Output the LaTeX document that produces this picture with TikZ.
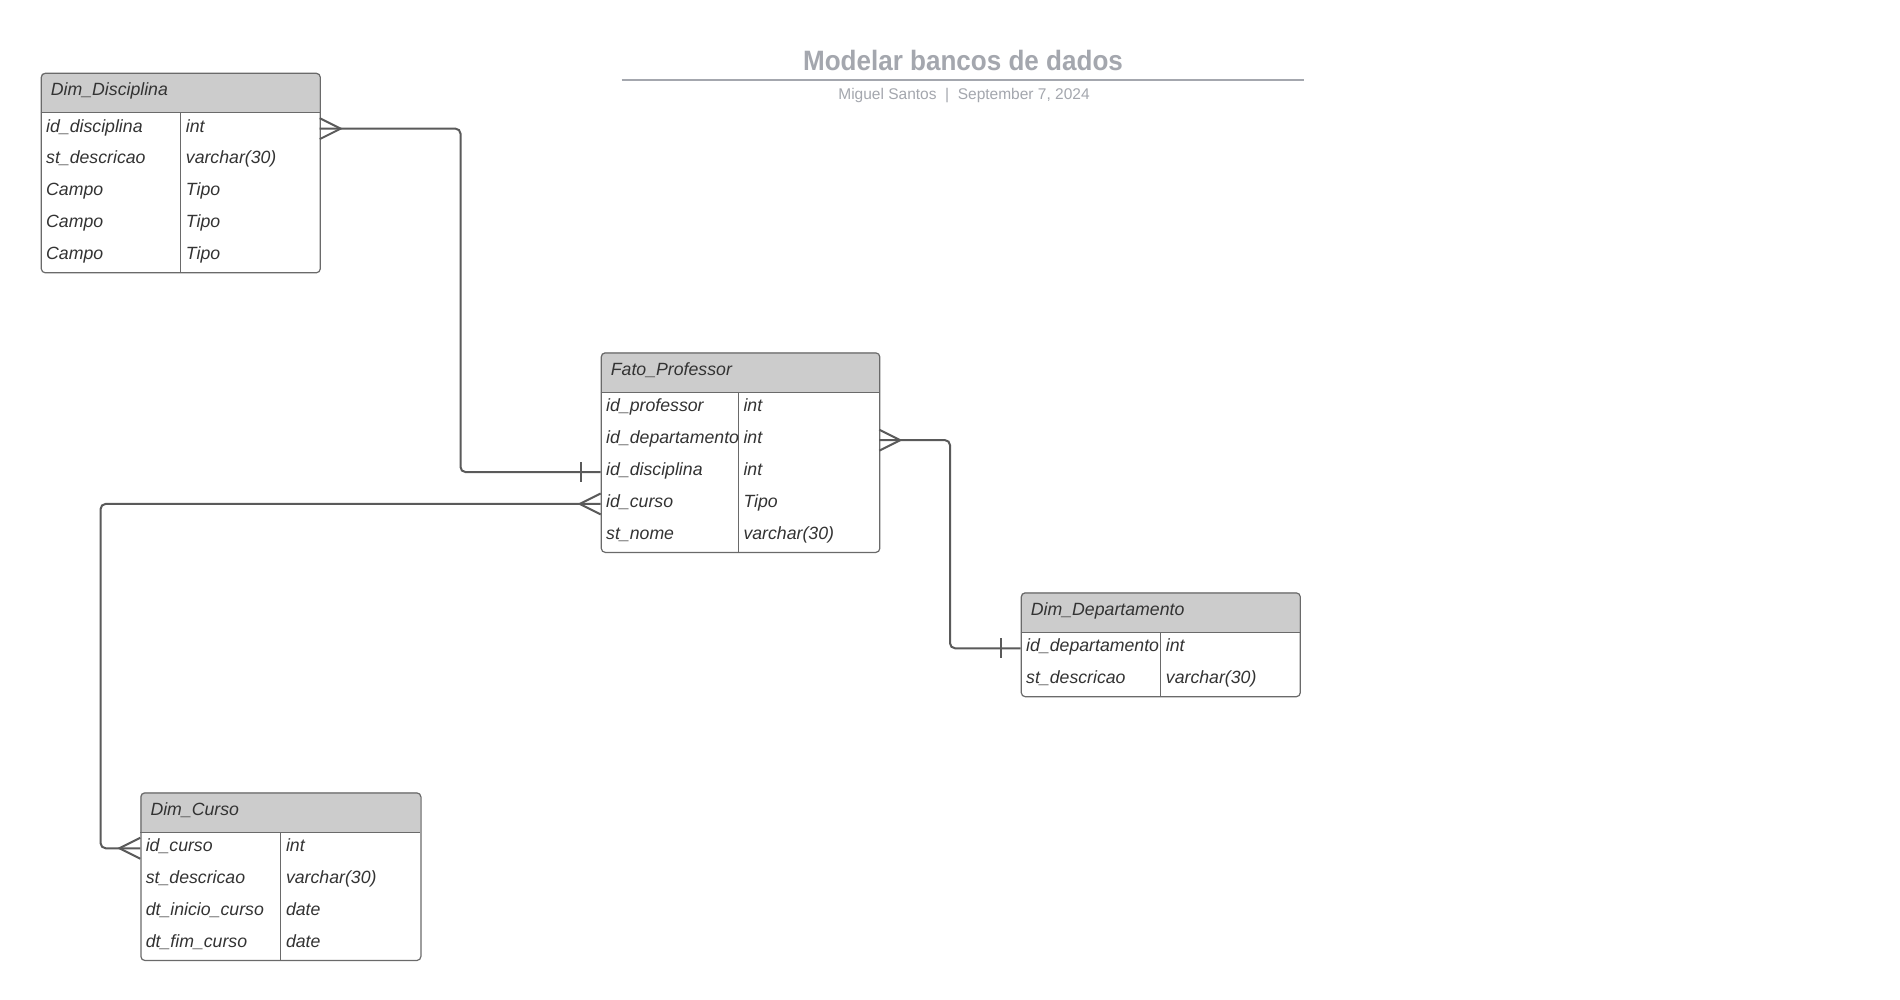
\documentclass[tikz,border=0pt]{standalone}
\usepackage{fontspec}
\setmainfont{Liberation Sans}
\usetikzlibrary{calc}
\definecolor{hdrfill}{HTML}{CCCCCC}
\definecolor{framecol}{HTML}{6A6A6A}
\definecolor{txtcol}{HTML}{333333}
\definecolor{conncol}{HTML}{5A5A5A}
\definecolor{ttlcol}{HTML}{A4A7AE}
\tikzset{
  tableframe/.style={draw=framecol, line width=1.2pt, rounded corners=4pt, inner sep=0pt, rectangle},
  rulestyle/.style={draw=framecol, line width=1.2pt},
  celltext/.style={inner sep=0pt, anchor=base west, text=txtcol, font=\fontsize{17.7}{21}\selectfont\itshape},
  connline/.style={draw=conncol, line width=2pt, rounded corners=5pt},
  footline/.style={draw=conncol, line width=2pt},
}
% #1 name, #2 x, #3 y, #4 width, #5 column offset, #6 rows, #7 title, #8 rows list
\newcommand\ertable[8]{%
  \pgfmathsetmacro\erh{40+#6*31.9}%
  \begin{scope}
    \clip[rounded corners=4pt] (#2,#3) rectangle ++(#4,\erh);
    \fill[hdrfill] (#2,#3) rectangle ++(#4,40);
  \end{scope}
  \node[tableframe, anchor=north west, minimum width=#4pt, minimum height=\erh pt] (#1) at (#2,#3) {};
  \draw[rulestyle] (#2,#3+40) -- ++(#4,0);
  \draw[rulestyle] (#2+#5,#3+40) -- ++(0,#6*31.9);
  \node[celltext] (#1-title) at (#2+10,#3+23.3) {#7};
  \foreach \f/\t [count=\i] in {#8} {
    \node[celltext] (#1-f\i) at (#2+5.3,#3+40+\i*31.9-15.95+3.4) {\f};
    \node[celltext] (#1-t\i) at (#2+#5+5,#3+40+\i*31.9-15.95+3.4) {\t};
    \coordinate (#1-L\i) at (#2,#3+40+\i*31.9-15.95);
    \coordinate (#1-R\i) at (#2+#4,#3+40+\i*31.9-15.95);
  }
}
\begin{document}
\begin{tikzpicture}[x=1pt,y=-1pt]
\useasboundingbox (0,0) rectangle (1900,1000);
\fill[white] (0,0) rectangle (1900,1000);

% title block
\node[inner sep=0pt, anchor=base, text=ttlcol, font=\fontsize{28}{34}\selectfont\bfseries] (title) at (963,70.5) {\scalebox{0.93}[1]{Modelar bancos de dados}};
\coordinate (tl) at (621.6,80);
\coordinate (tr) at (1303.8,80);
\draw[draw=ttlcol, line width=1.5pt] (tl) -- (tr);
\node[inner sep=0pt, anchor=base, text=ttlcol, font=\fontsize{15.5}{19}\selectfont] (subtitle) at (964,99.5) {Miguel Santos\ \ |\ \ September 7, 2024};

% tables
\ertable{dd}{40.7}{72.7}{279}{140}{5}{Dim\_Disciplina}{id\_disciplina/int, st\_descricao/varchar(30), Campo/Tipo, Campo/Tipo, Campo/Tipo}
\ertable{fp}{600.7}{352.3}{278.5}{137.6}{5}{Fato\_Professor}{id\_professor/int, id\_departamento/int, id\_disciplina/int, id\_curso/Tipo, st\_nome/varchar(30)}
\ertable{dep}{1020.7}{592.3}{279}{140}{2}{Dim\_Departamento}{id\_departamento/int, st\_descricao/varchar(30)}
\ertable{dc}{140.3}{792.3}{280}{140.5}{4}{Dim\_Curso}{id\_curso/int, st\_descricao/varchar(30), dt\_inicio\_curso/date, dt\_fim\_curso/date}

% bend guides
\coordinate (b1) at (460.5,0);
\coordinate (b2) at (100.6,0);
\coordinate (b3) at (950,0);

% connector Dim_Disciplina -> Fato_Professor
\draw[connline] (dd-R1) -| (b1 |- fp-L3) -- (fp-L3);
\draw[footline] ($(dd-R1)+(0,-10.5)$) -- ($(dd-R1)+(21,0)$) -- ($(dd-R1)+(0,10.5)$);
\draw[footline] ($(fp-L3)+(-20,-10)$) -- ($(fp-L3)+(-20,10)$);

% connector Fato_Professor -> Dim_Curso
\draw[connline] (fp-L4) -| (b2 |- dc-L1) -- (dc-L1);
\draw[footline] ($(fp-L4)+(0,-10.5)$) -- ($(fp-L4)+(-21,0)$) -- ($(fp-L4)+(0,10.5)$);
\draw[footline] ($(dc-L1)+(0,-10.5)$) -- ($(dc-L1)+(-21,0)$) -- ($(dc-L1)+(0,10.5)$);

% connector Fato_Professor -> Dim_Departamento
\draw[connline] (fp-R2) -| (b3 |- dep-L1) -- (dep-L1);
\draw[footline] ($(fp-R2)+(0,-10.5)$) -- ($(fp-R2)+(21,0)$) -- ($(fp-R2)+(0,10.5)$);
\draw[footline] ($(dep-L1)+(-20,-10)$) -- ($(dep-L1)+(-20,10)$);
\end{tikzpicture}
\end{document}
